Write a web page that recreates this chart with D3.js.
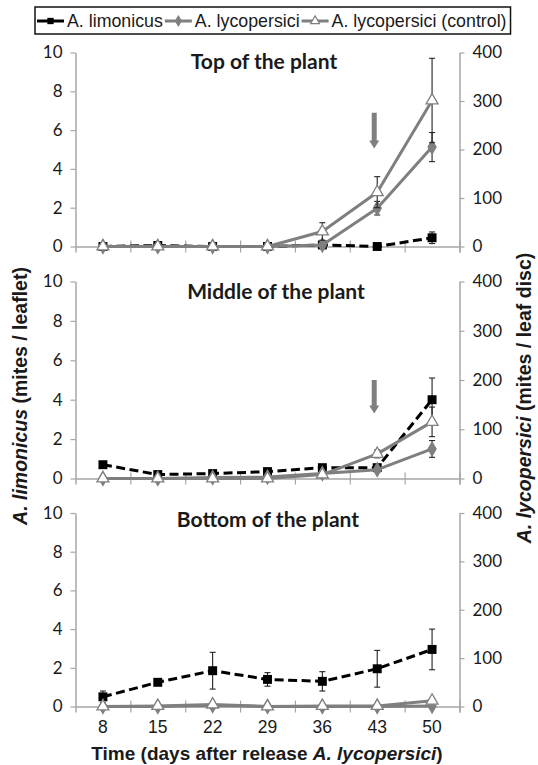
<!DOCTYPE html>
<html>
<head>
<meta charset="utf-8">
<script src="https://cdn.jsdelivr.net/npm/d3@7"></script>
<style>
  body { margin: 0; background: #fff; }
  svg { display: block; }
</style>
</head>
<body>
<div id="chart"></div>
<script>
// days after release, one category per sampling date
const days = [8, 15, 22, 29, 36, 43, 50];
const leftTicks = [0, 2, 4, 6, 8, 10];
const rightTicks = [0, 100, 200, 300, 400];
const panelTitles = ["Top of the plant", "Middle of the plant", "Bottom of the plant"];
const seriesNames = ["A. limonicus", "A. lycopersici", "A. lycopersici (control)"];

// A. limonicus (mites / leaflet), left axis
const limTop = [0, 0.05, 0, 0, 0.08, 0, 0.45];
const limTopErr = [0, 0.03, 0, 0, 0.05, 0.03, 0.3];
const limMid = [0.7, 0.2, 0.25, 0.35, 0.55, 0.55, 4.0];
const limMidErr = [0.1, 0.08, 0.08, 0.1, 0.12, 0.12, 1.1];
const limBot = [0.5, 1.25, 1.85, 1.4, 1.3, 1.95, 2.95];
const limBotErr = [0.3, 0.15, 0.95, 0.35, 0.5, 0.95, 1.05];

// A. lycopersici (mites / leaf disc), right axis
const lycTop = [0, 0, 0, 0, 3, 79, 205];
const lycTopErr = [0, 0, 0, 0, 2, 14, 30];
const lycMid = [0, 0, 2, 3, 10, 18, 60];
const lycMidErr = [0, 0, 1, 1, 3, 4, 17];
const lycBot = [0, 0, 2, 0, 0, 0, 1];
const lycBotErr = [0, 0, 1, 0, 0, 0, 1];

// A. lycopersici control (mites / leaf disc), right axis
const ctlTop = [0, 0, 0, 0, 31, 112, 301];
const ctlTopErr = [0, 0, 0, 0, 18, 32, 87];
const ctlMid = [0, 0, 0, 0, 8, 50, 115];
const ctlMidErr = [0, 0, 0, 0, 3, 8, 30];
const ctlBot = [0, 1, 4, 0, 1, 1, 12];
const ctlBotErr = [0, 1, 2, 0, 1, 1, 4];

// gray arrows at day 43 (left-axis units: from -> to)
const arrowDay = 43;
const arrowTop = [6.9, 5.05];
const arrowMid = [5.0, 3.3];

const W = 538, H = 765;
const GRAY = "#7f7f7f";
const AXIS = "#a6a6a6";
const TXT = "#1a1a1a";

const svg = d3.select("#chart").append("svg")
    .attr("width", W)
    .attr("height", H);

const x = d3.scaleBand().domain(days).range([75.5, 459.5]);
const xEdge = d3.scaleLinear().domain([0, days.length]).range([75.5, 459.5]);

const panels = [
    { title: panelTitles[0], titleX: 264, titleY: 62, y0: 246.5, y1: 52.5,
      lim: limTop, limErr: limTopErr, lyc: lycTop, lycErr: lycTopErr, ctl: ctlTop, ctlErr: ctlTopErr, arrow: arrowTop },
    { title: panelTitles[1], titleX: 276, titleY: 292, y0: 478.5, y1: 281.5,
      lim: limMid, limErr: limMidErr, lyc: lycMid, lycErr: lycMidErr, ctl: ctlMid, ctlErr: ctlMidErr, arrow: arrowMid },
    { title: panelTitles[2], titleX: 268, titleY: 520, y0: 706.5, y1: 513,
      lim: limBot, limErr: limBotErr, lyc: lycBot, lycErr: lycBotErr, ctl: ctlBot, ctlErr: ctlBotErr, arrow: null }
];

const sq = d3.symbol().type(d3.symbolSquare).size(80);
const dia = d3.symbol().type(d3.symbolDiamond).size(55);
const tri = d3.symbol().type(d3.symbolTriangle).size(62);

panels.forEach((p, pi) => {
    const yL = d3.scaleLinear().domain([0, 10]).range([p.y0, p.y1]);
    const yR = d3.scaleLinear().domain([0, 400]).range([p.y0, p.y1]);
    const g = svg.append("g");

    // left axis
    const la = g.append("g")
        .attr("transform", "translate(75.5,0)")
        .call(d3.axisLeft(yL).tickValues(leftTicks).tickSizeInner(5).tickSizeOuter(0).tickPadding(8));
    // right axis
    const ra = g.append("g")
        .attr("transform", "translate(459.5,0)")
        .call(d3.axisRight(yR).tickValues(rightTicks).tickSizeInner(5).tickSizeOuter(0).tickPadding(8));
    [la, ra].forEach(a => {
        a.select(".domain").attr("stroke", AXIS).attr("stroke-width", 1.5);
        a.selectAll(".tick line").attr("stroke", AXIS).attr("stroke-width", 1.2);
        a.selectAll(".tick text")
            .attr("fill", TXT)
            .style("font-family", "Lato, 'Open Sans', sans-serif")
            .style("font-size", "17px");
    });

    // x axis with crossing ticks at category edges
    const xa = g.append("g")
        .attr("transform", "translate(0," + p.y0 + ")")
        .call(d3.axisBottom(xEdge).tickValues(d3.range(1, days.length + 1)).tickSize(6).tickFormat(""));
    xa.select(".domain").attr("stroke", AXIS).attr("stroke-width", 1.5);
    xa.selectAll(".tick line").attr("stroke", AXIS).attr("stroke-width", 1.2).attr("y1", -6);

    if (pi === 2) {
        const xl = g.append("g")
            .attr("transform", "translate(0," + p.y0 + ")")
            .call(d3.axisBottom(x).tickSize(0).tickPadding(14));
        xl.select(".domain").remove();
        xl.selectAll(".tick text")
            .attr("fill", TXT)
            .style("font-family", "'Liberation Sans', Arial, sans-serif")
            .style("font-size", "17.5px");
    }

    // panel title
    g.append("text")
        .attr("x", p.titleX)
        .attr("y", p.titleY)
        .attr("dy", "0.35em")
        .attr("text-anchor", "middle")
        .attr("fill", TXT)
        .style("font-family", "Lato, 'Open Sans', sans-serif")
        .style("font-weight", "bold")
        .style("font-size", "21px")
        .text(p.title);

    const series = [
        { vals: p.lim, err: p.limErr, y: yL, stroke: "#000", dash: "9,4.5", sym: sq, fill: "#000", mstroke: "none" },
        { vals: p.lyc, err: p.lycErr, y: yR, stroke: GRAY, dash: null, sym: dia, fill: GRAY, mstroke: GRAY },
        { vals: p.ctl, err: p.ctlErr, y: yR, stroke: GRAY, dash: null, sym: tri, fill: "#fff", mstroke: GRAY }
    ];

    series.forEach(s => {
        const pts = days.map((d, i) => ({ day: d, v: s.vals[i], e: s.err[i] }));
        const cx = d => x(d.day) + x.bandwidth() / 2;

        g.append("path")
            .datum(pts)
            .attr("fill", "none")
            .attr("stroke", s.stroke)
            .attr("stroke-width", 3)
            .attr("stroke-linejoin", "round")
            .attr("stroke-dasharray", s.dash)
            .attr("d", d3.line().x(cx).y(d => s.y(d.v)));

        // error bars
        const eb = g.append("g").selectAll("g")
            .data(pts.filter(d => d.e > 0))
            .join("g")
            .attr("stroke", "#222")
            .attr("stroke-width", 1.1);
        eb.append("line")
            .attr("x1", cx).attr("x2", cx)
            .attr("y1", d => s.y(d.v - d.e)).attr("y2", d => s.y(d.v + d.e));
        eb.append("line")
            .attr("x1", d => cx(d) - 3).attr("x2", d => cx(d) + 3)
            .attr("y1", d => s.y(d.v + d.e)).attr("y2", d => s.y(d.v + d.e));
        eb.append("line")
            .attr("x1", d => cx(d) - 3).attr("x2", d => cx(d) + 3)
            .attr("y1", d => s.y(d.v - d.e)).attr("y2", d => s.y(d.v - d.e));

        g.append("g").selectAll("path")
            .data(pts)
            .join("path")
            .attr("transform", d => "translate(" + cx(d) + "," + s.y(d.v) + ")")
            .attr("d", s.sym())
            .attr("fill", s.fill)
            .attr("stroke", s.mstroke)
            .attr("stroke-width", 1.3);
    });

    // arrow marking a time point
    if (p.arrow) {
        const ax = x(arrowDay) + x.bandwidth() / 2 - 3;
        const ya = yL(p.arrow[0]), yb = yL(p.arrow[1]);
        g.append("path")
            .attr("fill", GRAY)
            .attr("d", "M" + (ax - 2.5) + "," + ya + "L" + (ax + 2.5) + "," + ya +
                "L" + (ax + 2.5) + "," + (yb - 8) + "L" + (ax + 5) + "," + (yb - 8) +
                "L" + ax + "," + yb + "L" + (ax - 5) + "," + (yb - 8) +
                "L" + (ax - 2.5) + "," + (yb - 8) + "Z");
    }
});

// axis titles
const leftTitle = svg.append("text")
    .attr("transform", "translate(27,396) rotate(-90)")
    .attr("text-anchor", "middle")
    .attr("fill", TXT)
    .style("font-family", "'Liberation Sans', Arial, sans-serif")
    .style("font-weight", "bold")
    .style("font-size", "19.5px");
leftTitle.append("tspan").style("font-style", "italic").text("A. limonicus");
leftTitle.append("tspan").text(" (mites / leaflet)");

const rightTitle = svg.append("text")
    .attr("transform", "translate(531,398) rotate(-90)")
    .attr("text-anchor", "middle")
    .attr("fill", TXT)
    .style("font-family", "'Liberation Sans', Arial, sans-serif")
    .style("font-weight", "bold")
    .style("font-size", "19.5px");
rightTitle.append("tspan").style("font-style", "italic").text("A. lycopersici");
rightTitle.append("tspan").text(" (mites / leaf disc)");

const xTitle = svg.append("text")
    .attr("x", 267)
    .attr("y", 760)
    .attr("text-anchor", "middle")
    .attr("fill", TXT)
    .style("font-family", "'Liberation Sans', Arial, sans-serif")
    .style("font-weight", "bold")
    .style("font-size", "19px");
xTitle.append("tspan").text("Time (days after release ");
xTitle.append("tspan").style("font-style", "italic").text("A. lycopersici");
xTitle.append("tspan").text(")");

// legend
const legend = svg.append("g");
const legendBox = legend.append("rect")
    .attr("y", 7)
    .attr("height", 27)
    .attr("fill", "#fff")
    .attr("stroke", "#111")
    .attr("stroke-width", 1.5);
const legendSyms = [
    { sym: d3.symbol().type(d3.symbolSquare).size(40), stroke: "#000", fill: "#000", ms: "none" },
    { sym: d3.symbol().type(d3.symbolDiamond).size(28), stroke: GRAY, fill: GRAY, ms: GRAY },
    { sym: d3.symbol().type(d3.symbolTriangle).size(34), stroke: GRAY, fill: "#fff", ms: GRAY }
];
let lx = 37;
seriesNames.forEach((name, i) => {
    const s = legendSyms[i];
    legend.append("line")
        .attr("x1", lx).attr("x2", lx + 27)
        .attr("y1", 21).attr("y2", 21)
        .attr("stroke", s.stroke)
        .attr("stroke-width", 3);
    legend.append("path")
        .attr("transform", "translate(" + (lx + 13.5) + ",21)")
        .attr("d", s.sym())
        .attr("fill", s.fill)
        .attr("stroke", s.ms)
        .attr("stroke-width", 1.2);
    const t = legend.append("text")
        .attr("x", lx + 30)
        .attr("y", 21)
        .attr("dy", "0.35em")
        .attr("fill", TXT)
        .style("font-family", "'Liberation Sans', Arial, sans-serif")
        .style("font-size", "17.8px")
        .text(name);
    lx += 30 + t.node().getComputedTextLength() + 2;
});
legendBox.attr("x", 35).attr("width", lx - 35 + 2);
</script>
</body>
</html>
